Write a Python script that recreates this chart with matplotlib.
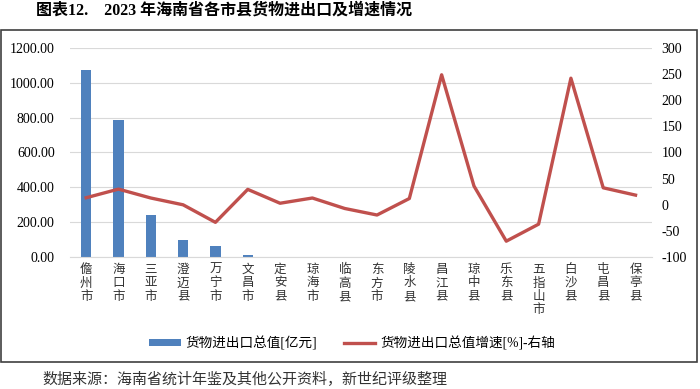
import matplotlib.pyplot as plt
import numpy as np
from matplotlib.patches import Rectangle

plt.rcParams['font.family'] = ['Liberation Serif', 'Noto Sans CJK SC', 'DejaVu Sans']

counties = ["儋州市", "海口市", "三亚市", "澄迈县", "万宁市", "文昌市", "定安县", "琼海市", "临高县",
            "东方市", "陵水县", "昌江县", "琼中县", "乐东县", "五指山市", "白沙县", "屯昌县", "保亭县"]
trade_value = [1075, 788, 240, 100, 66, 10, 3, 2, 2, 1, 0.5, 0.3, 0.3, 0.3, 0.2, 0.2, 0.2, 0.2]
growth_pct = [13.5, 30, 13, 0, -33.5, 29.5, 3, 13, -7, -19.5, 12, 248.5, 36, -69.5, -37, 242, 32.5, 18.5]

left_ticks = [0, 200, 400, 600, 800, 1000, 1200]
right_ticks = [-100, -50, 0, 50, 100, 150, 200, 250, 300]

blue = "#4F81BD"
red = "#C0504D"

fig = plt.figure(figsize=(7, 3.89), dpi=100)
ax = fig.add_axes([0.1, 0.339, 0.831, 0.538])
x = np.arange(len(counties))

ax.bar(x, trade_value, width=0.32, color=blue, label="货物进出口总值[亿元]", zorder=2)
ax.set_ylim(0, 1200)
ax.set_yticks(left_ticks, [f"{v:.2f}" for v in left_ticks], fontsize=10)
ax.set_xlim(-0.5, len(counties) - 0.5)
ax.set_xticks(x, ["\n".join(c) for c in counties], fontsize=9, va="top", linespacing=1.15,
              color="#333333")
ax.tick_params(length=0, pad=5)
ax.tick_params(axis="y", pad=11)
ax.grid(axis="y", color="#D9D9D9", lw=0.8, zorder=0)
for s in ["top", "right", "left"]:
    ax.spines[s].set_visible(False)
ax.spines["bottom"].set_color("#D9D9D9")

ax2 = ax.twinx()
ax2.plot(x, growth_pct, color=red, lw=2.4, label="货物进出口总值增速[%]-右轴", zorder=3)
ax2.set_ylim(-100, 300)
ax2.set_yticks(right_ticks, [str(v) for v in right_ticks], fontsize=10)
ax2.tick_params(length=0, pad=7)
for s in ax2.spines.values():
    s.set_visible(False)

h1, l1 = ax.get_legend_handles_labels()
h2, l2 = ax2.get_legend_handles_labels()
fig.legend(h1 + h2, l1 + l2, loc="center", bbox_to_anchor=(0.503, 1 - 343 / 389), ncol=2,
           frameon=False, fontsize=9.8, handlelength=2.3, handleheight=0.45,
           columnspacing=2.0, handletextpad=0.35)

fig.patches.append(Rectangle((0.002, 1 - 362 / 389), 0.994, 332 / 389, transform=fig.transFigure,
                             fill=False, edgecolor="#404040", lw=1.2))

fig.text(36 / 700, 1 - 11 / 389, "图表12.    2023 年海南省各市县货物进出口及增速情况",
         fontsize=11.5, fontweight="bold", va="center", ha="left")
fig.text(42 / 700, 1 - 380 / 389, "数据来源：海南省统计年鉴及其他公开资料，新世纪评级整理",
         fontsize=10.8, va="center", ha="left", color="#333333")

fig.savefig("out.png", dpi=100)
